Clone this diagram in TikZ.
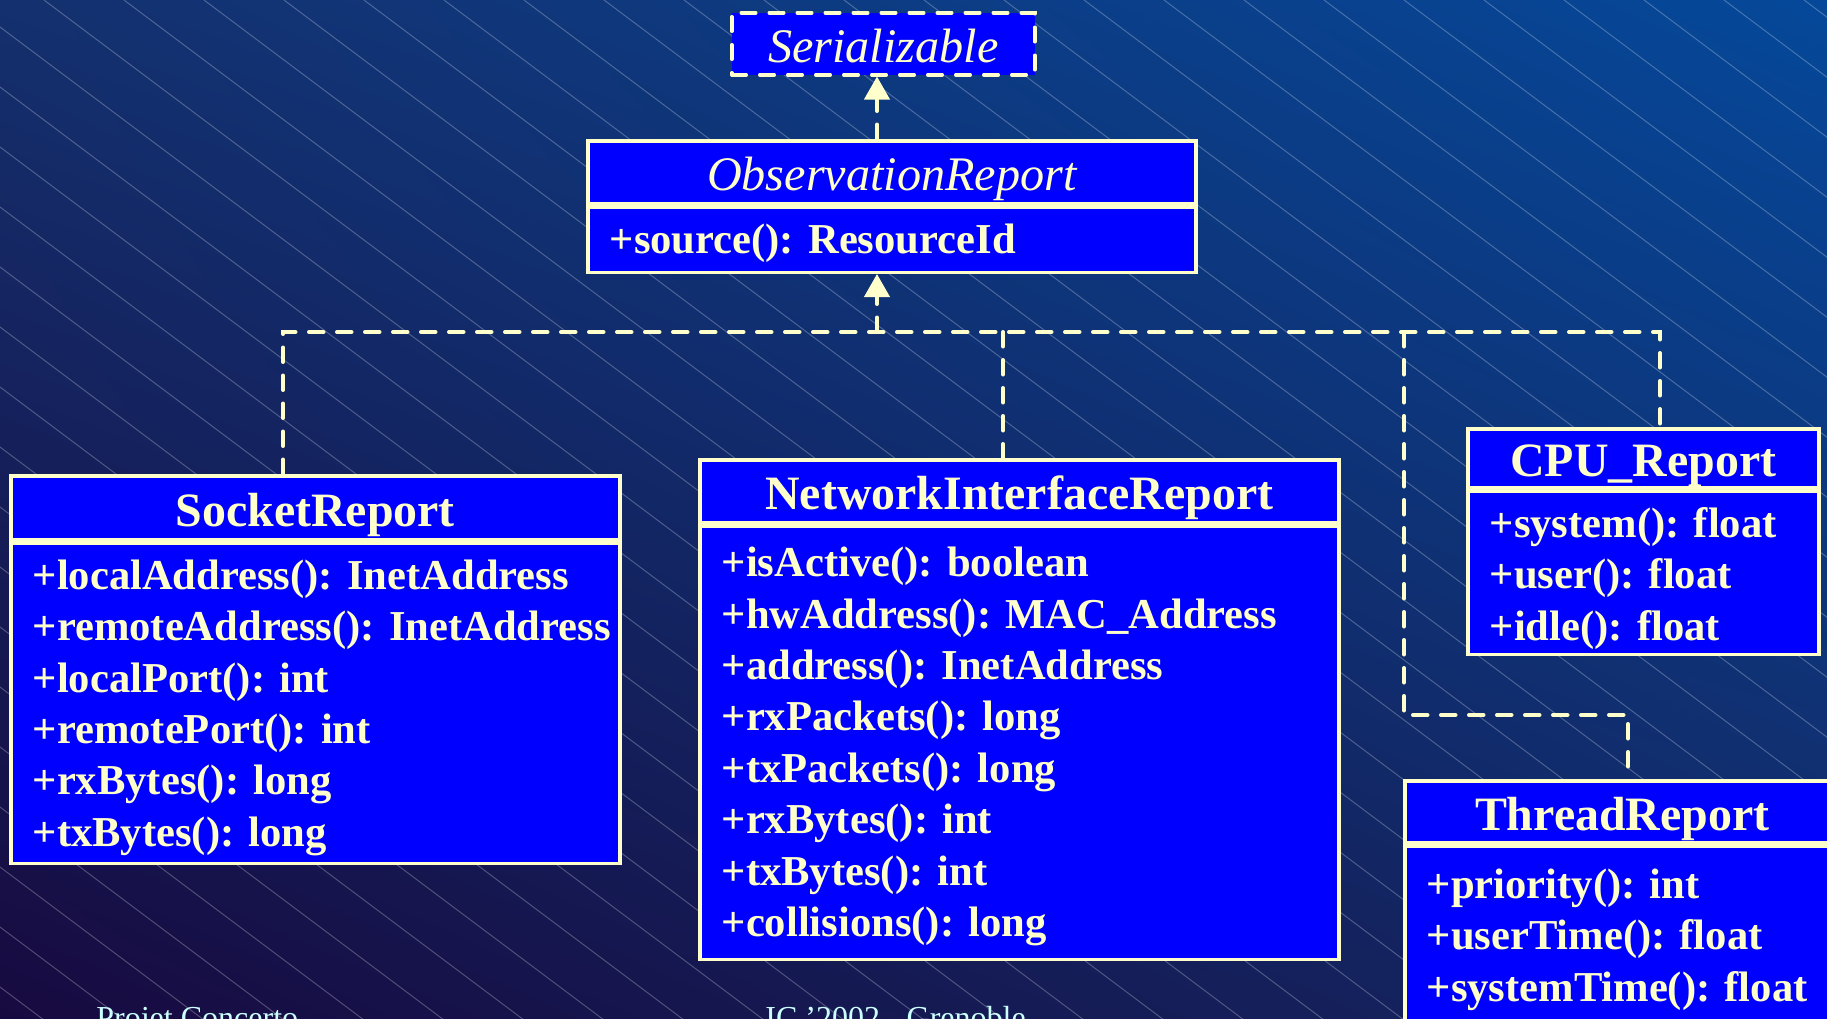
\documentclass[tikz,border=0pt]{standalone}
\usepackage{fontspec}
\setmainfont{Liberation Serif}
\usetikzlibrary{arrows.meta,positioning,shadings}

\definecolor{umlblue}{RGB}{0,0,255}
\definecolor{cream}{RGB}{255,255,204}
\definecolor{footcyan}{RGB}{204,255,255}
\definecolor{bgdeep}{RGB}{23,10,64}
\definecolor{bgsky}{RGB}{5,72,154}
\definecolor{bgupleft}{RGB}{20,48,110}
\definecolor{bglowright}{RGB}{20,40,100}

\tikzset{
  classhead/.style={draw=cream, fill=umlblue, line width=1.75pt, text=cream,
    anchor=north west, inner sep=0pt, text height=18.5pt, text depth=0pt,
    font=\fontsize{23.95pt}{28pt}\selectfont\bfseries},
  abstracthead/.style={classhead, font=\fontsize{24.1pt}{28pt}\selectfont\itshape},
  interface/.style={abstracthead, dash pattern=on 7.25pt off 6.75pt, line cap=round},
  classbody/.style={draw=cream, fill=umlblue, line width=1.75pt, text=cream,
    anchor=north west, inner xsep=11pt, inner ysep=0pt, align=left,
    font=\fontsize{21.3pt}{25.7pt}\selectfont\bfseries\frenchspacing},
  realize/.style={draw=cream, line width=2pt, dash pattern=on 7.25pt off 6.75pt, line cap=round},
  realizeto/.style={realize, -{Triangle[length=11.5pt, width=12.5pt]}},
  hatchline/.style={draw=white, draw opacity=0.25, line width=0.5pt},
  footer/.style={text=footcyan, anchor=base west, inner sep=0pt,
    font=\fontsize{16pt}{19pt}\selectfont},
}

\begin{document}
\begin{tikzpicture}[x=0.5pt, y=-0.5pt]

	\useasboundingbox (0,0) rectangle (1827,1018);
	\clip (0,0) rectangle (1827,1018);

	% slide background
	\shade[upper left=bgupleft, upper right=bgsky, lower left=bgdeep, lower right=bglowright] (0,0) rectangle (1827,1018);
	\foreach \k in {-17,...,23}
		\draw[hatchline] (-36+80*\k,0) -- ++(2000,1500);

	% classes
	\node[interface, minimum width=151.5pt, minimum height=31pt] (ser) at (730,11) {Serializable};

	\node[abstracthead, minimum width=304pt, minimum height=31.5pt] (obs) at (586,139) {ObservationReport};
	\node[classbody, text width=282pt, text height=23pt, text depth=9.5pt] (obsbody) at (obs.south west) {+source(): ResourceId};

	\node[classhead, minimum width=304.5pt, minimum height=32pt] (sock) at (9,474) {SocketReport};
	\node[classbody, text width=282.5pt, text height=23pt, text depth=137pt] (sockbody) at (sock.south west)
		{+localAddress(): InetAddress\\\mbox{+remoteAddress(): InetAddress}\\+localPort(): int\\+remotePort(): int\\+rxBytes(): long\\+txBytes(): long};

	\node[classhead, minimum width=319.5pt, minimum height=31.5pt] (nir) at (698,458) {NetworkInterfaceReport};
	\node[classbody, text width=297.5pt, text height=25.25pt, text depth=191.25pt] (nirbody) at (nir.south west)
		{+isActive(): boolean\\+hwAddress(): MAC\_Address\\+address(): InetAddress\\+rxPackets(): long\\+txPackets(): long\\+rxBytes(): int\\+txBytes(): int\\+collisions(): long};

	\node[classhead, minimum width=175.5pt, minimum height=29.5pt] (cpu) at (1466,427) {CPU\_Report};
	\node[classbody, text width=153.5pt, text height=23pt, text depth=58.5pt] (cpubody) at (cpu.south west)
		{+system(): float\\+user(): float\\+idle(): float};

	\node[classhead, minimum width=217.5pt, minimum height=31pt] (thr) at (1403,779) {ThreadReport};
	\node[classbody, text width=195.5pt, text height=26pt, text depth=101pt] (thrbody) at (thr.south west)
		{+priority(): int\\+userTime(): float\\+systemTime(): float};

	% realization links
	\coordinate (hub) at (877,332);
	\coordinate (dsock) at (283,332);
	\coordinate (dnir) at (1003,332);
	\coordinate (dthr) at (1404,332);
	\coordinate (dcpu) at (1660,332);
	\coordinate (bend) at (1628,715);

	\draw[realizeto] (obs.north -| hub) -- (ser.south -| hub);
	\draw[realizeto] (hub) -- (hub |- obsbody.south);
	\draw[realize] (dsock |- sock.north) -- (dsock) -- (dcpu) -- (dcpu |- cpu.north);
	\draw[realize] (dnir) -- (dnir |- nir.north);
	\draw[realize] (dthr) |- (bend) -- (bend |- thr.north);

	% footer
	\node[footer] (proj) at (96,1028) {Projet Concerto};
	\node[footer] (conf) at (765,1028) {IC ’2002 - Grenoble};

\end{tikzpicture}
\end{document}
